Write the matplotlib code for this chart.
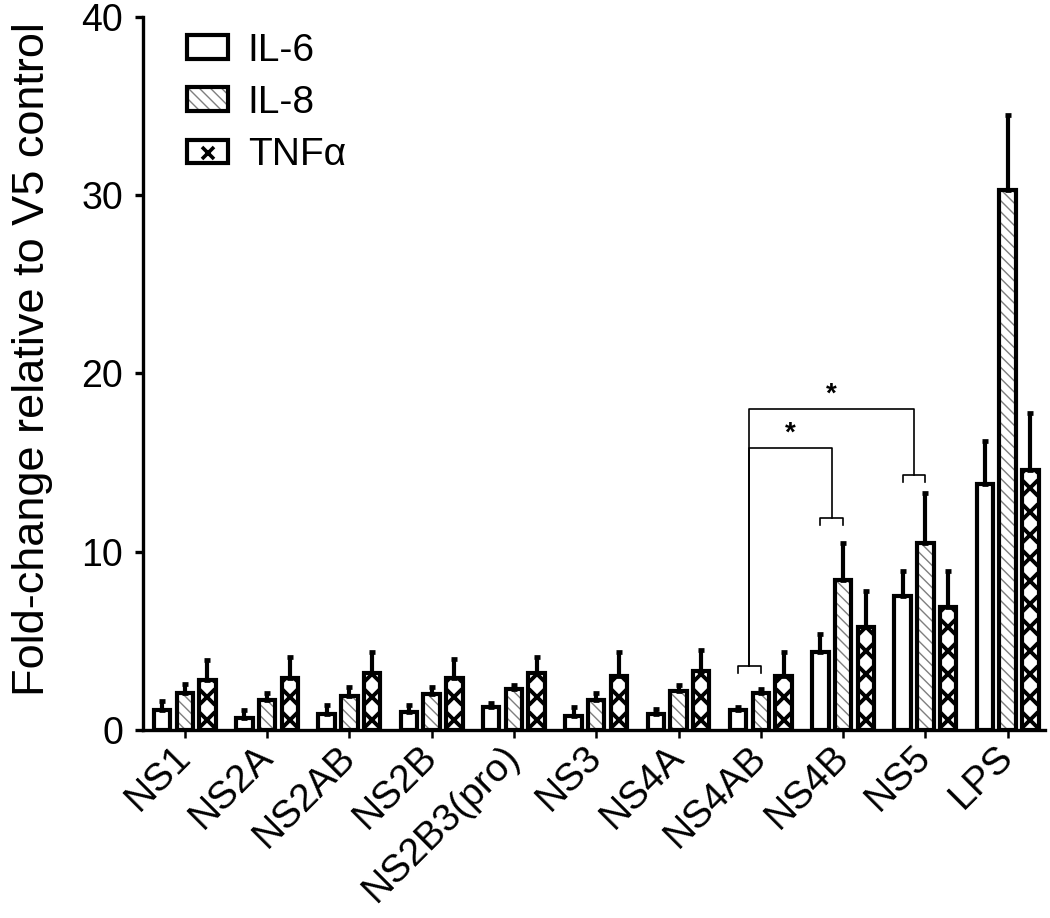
import matplotlib
matplotlib.use("Agg")
import matplotlib.pyplot as plt
import numpy as np
from matplotlib.patches import Patch
from matplotlib.lines import Line2D
from matplotlib.legend_handler import HandlerTuple

groups = ["NS1", "NS2A", "NS2AB", "NS2B", "NS2B3(pro)", "NS3",
          "NS4A", "NS4AB", "NS4B", "NS5", "LPS"]

il6 = [1.1, 0.7, 0.9, 1.0, 1.3, 0.8, 0.9, 1.1, 4.4, 7.5, 13.8]
il6_err = [0.5, 0.4, 0.5, 0.4, 0.2, 0.5, 0.3, 0.2, 1.0, 1.4, 2.4]
il8 = [2.1, 1.7, 1.9, 2.0, 2.3, 1.7, 2.2, 2.1, 8.4, 10.5, 30.3]
il8_err = [0.5, 0.4, 0.5, 0.4, 0.2, 0.4, 0.3, 0.2, 2.1, 2.8, 4.2]
tnf = [2.8, 2.9, 3.2, 2.9, 3.2, 3.0, 3.3, 3.0, 5.8, 6.9, 14.6]
tnf_err = [1.1, 1.2, 1.2, 1.1, 0.9, 1.4, 1.2, 1.4, 2.0, 2.0, 3.2]

# significance brackets: group index -> bracket height over IL-6/IL-8 pair
bracket_level = {7: 3.6, 8: 11.9, 9: 14.3}
comparisons = [(7, 8, 15.8), (7, 9, 18.0)]

plt.rcParams["font.family"] = ["Liberation Sans", "DejaVu Sans"]
plt.rcParams["hatch.linewidth"] = 1.0

fig = plt.figure(figsize=(10.5, 9.18), dpi=100)
ax = fig.add_axes([0.136, 0.2048, 0.859, 0.777])

x = np.arange(len(groups))
off = 0.276
w = 0.2
edge_lw = 3.0
hatch_grey = "#7f7f7f"

# IL-6: open bars
ax.bar(x - off, il6, w, color="white", edgecolor="black", linewidth=edge_lw, zorder=3)

# IL-8: grey hatch layer + black outline
ax.bar(x, il8, w, color="white", edgecolor=hatch_grey, linewidth=0, hatch="\\\\\\", zorder=2)
ax.bar(x, il8, w, fill=False, edgecolor="black", linewidth=edge_lw, zorder=3)

# TNFa: bars with big crosses stacked inside
tnf_bars = ax.bar(x + off, tnf, w, color="white", edgecolor="black", linewidth=edge_lw, zorder=3)
cell = 1.3
for bar, h in zip(tnf_bars, tnf):
    ys = np.arange(0.55, h + cell, cell)
    ln, = ax.plot(np.full(len(ys), bar.get_x() + w / 2), ys, ls="none", marker="x",
                  ms=12, mew=2.8, color="black", zorder=3.5)
    ln.set_clip_path(bar)

# error bars (upper only)
for pos, vals, errs in [(x - off, il6, il6_err), (x, il8, il8_err), (x + off, tnf, tnf_err)]:
    ax.errorbar(pos, vals, yerr=[np.zeros(len(vals)), errs], fmt="none", ecolor="black",
                elinewidth=3.0, capsize=2.4, capthick=3.4, zorder=4)

# significance brackets
for g, h in bracket_level.items():
    ax.plot([g - off, g - off, g, g], [h - 0.4, h, h, h - 0.4], color="black", lw=1.2, zorder=4)
for a, b, top in comparisons:
    xa, xb = a - off / 2, b - off / 2
    ax.plot([xa, xa, xb, xb], [bracket_level[a], top, top, bracket_level[b]],
            color="black", lw=1.2, zorder=4)
    ax.text((xa + xb) / 2, top + 0.1, "*", ha="center", va="bottom", fontsize=20,
            fontweight="bold")

# legend
handles = [
    Patch(facecolor="white", edgecolor="black", lw=edge_lw),
    (Patch(facecolor="white", edgecolor=hatch_grey, lw=0, hatch="\\\\\\"),
     Patch(fill=False, edgecolor="black", lw=edge_lw)),
    (Patch(facecolor="white", edgecolor="black", lw=edge_lw),
     Line2D([], [], ls="none", marker="x", ms=8, mew=2.6, color="black")),
]
ax.legend(handles, ["IL-6", "IL-8", "TNFα"], loc="upper left", bbox_to_anchor=(0.028, 1.005),
          frameon=False, fontsize=28, handlelength=1.05, handleheight=0.55,
          handletextpad=0.5, labelspacing=0.42, borderpad=0,
          handler_map={tuple: HandlerTuple(ndivide=1)})

ax.set_xlim(-0.51, 10.45)
ax.set_ylim(0, 40)
ax.set_yticks([0, 10, 20, 30, 40])
ax.spines[["top", "right"]].set_visible(False)
ax.spines["left"].set_linewidth(2.4)
ax.spines["bottom"].set_linewidth(2.4)
ax.tick_params(axis="y", length=6, width=2.4, labelsize=27, pad=8)
ax.tick_params(axis="x", length=5.5, width=1.8, labelsize=28, pad=10)
ax.set_xticks(x)
ax.set_xticklabels(groups, rotation=45, ha="right", va="center", rotation_mode="anchor")
ax.set_ylabel("Fold-change relative to V5 control", fontsize=32.5)
ax.yaxis.set_label_coords(-0.1, 0.52)

fig.savefig("out.png", dpi=100)
